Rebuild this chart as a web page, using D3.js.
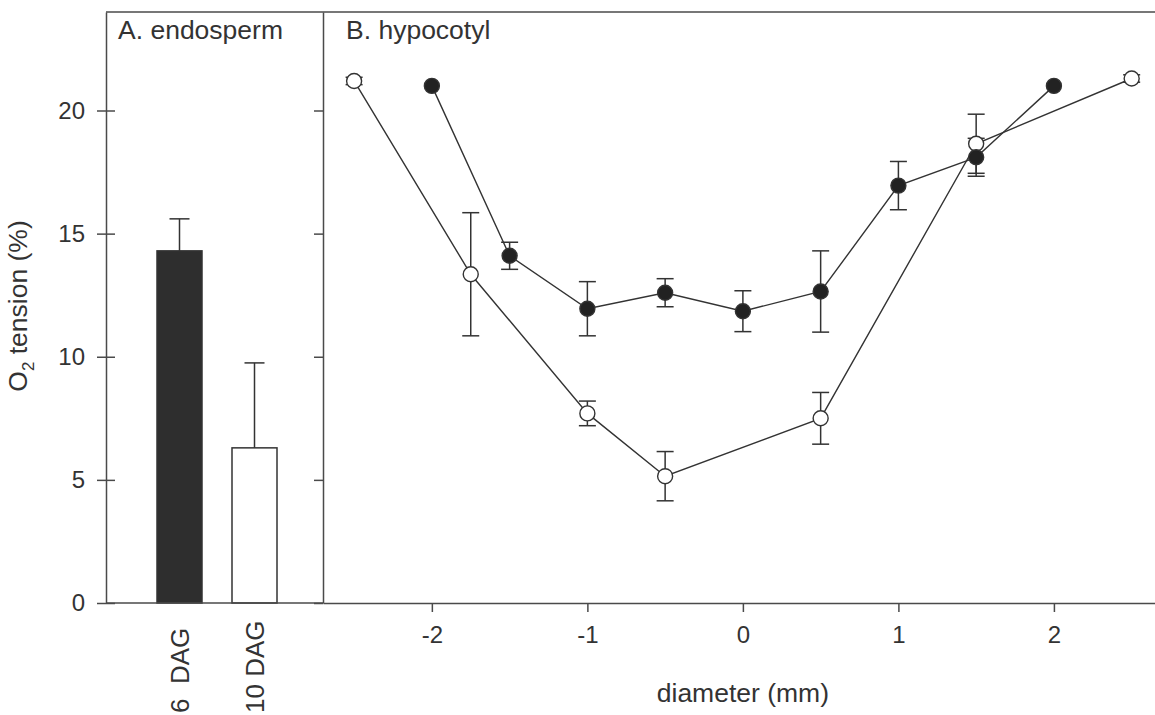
<!DOCTYPE html>
<html>
<head>
<meta charset="utf-8">
<script src="https://cdn.jsdelivr.net/npm/d3@7"></script>
<style>
  html, body { margin: 0; padding: 0; background: #fff; }
  svg { display: block; font-family: "Liberation Sans", Arial, sans-serif; }
</style>
</head>
<body>
<svg id="chart" width="1155" height="715"></svg>
<script>
// ---------- data ----------
const barCategories = ["6\u00a0\u00a0DAG", "10 DAG"];
const barValues = [14.3, 6.3];
const barErrors = [1.3, 3.45];

const yTicks = [0, 5, 10, 15, 20];
const xTicks = [-2, -1, 0, 1, 2];

// filled circles: 6 DAG
const diam6 = [-2, -1.5, -1, -0.5, 0, 0.5, 1, 1.5, 2];
const o2_6 = [21.0, 14.1, 11.95, 12.6, 11.85, 12.65, 16.95, 18.1, 21.0];
const err6 = [0, 0.55, 1.1, 0.57, 0.83, 1.65, 0.98, 0.77, 0];

// open circles: 10 DAG
const diam10 = [-2.5, -1.75, -1, -0.5, 0.5, 1.5, 2.5];
const o2_10 = [21.2, 13.35, 7.7, 5.15, 7.5, 18.65, 21.3];
const err10 = [0.15, 2.5, 0.5, 1.0, 1.05, 1.2, 0.15];

// ---------- layout ----------
const svg = d3.select("#chart");
const plotTop = 12, plotBottom = 603;
const aLeft = 106, aRight = 323, bRight = 1155;
const axisColor = "#4a4a4a", inkColor = "#333", textColor = "#333";

const y = d3.scaleLinear().domain([0, 24]).range([plotBottom, plotTop]);
const xBand = d3.scaleBand().domain(barCategories).range([142, 292])
  .paddingInner(0.4).paddingOuter(0.2);
const x = d3.scaleLinear().domain([-2.7, 2.65]).range([aRight, bRight]);

function styleAxis(g, fs) {
  g.selectAll("path.domain").attr("stroke", axisColor).attr("stroke-width", 1.5);
  g.selectAll(".tick line").attr("stroke", axisColor).attr("stroke-width", 1.5);
  g.selectAll(".tick text").attr("fill", textColor).style("font-size", fs + "px")
    .style("font-family", '"Liberation Sans", Arial, sans-serif');
}

// ---------- panel A ----------
svg.append("g").selectAll("rect").data(barValues).join("rect")
  .attr("x", (d, i) => xBand(barCategories[i]))
  .attr("width", xBand.bandwidth())
  .attr("y", d => y(d))
  .attr("height", d => y(0) - y(d))
  .attr("fill", (d, i) => i === 0 ? "#2e2e2e" : "#fff")
  .attr("stroke", inkColor).attr("stroke-width", 1.5);

const barErrG = svg.append("g").attr("stroke", inkColor).attr("stroke-width", 1.5);
barValues.forEach((v, i) => {
  const cx = xBand(barCategories[i]) + xBand.bandwidth() / 2;
  barErrG.append("line").attr("x1", cx).attr("x2", cx)
    .attr("y1", y(v)).attr("y2", y(v + barErrors[i]));
  barErrG.append("line").attr("x1", cx - 10).attr("x2", cx + 10)
    .attr("y1", y(v + barErrors[i])).attr("y2", y(v + barErrors[i]));
});

const yAxA = svg.append("g").attr("transform", `translate(${aLeft},0)`)
  .call(d3.axisLeft(y).tickValues(yTicks).tickSize(9).tickSizeOuter(0).tickPadding(12));
styleAxis(yAxA, 24);
const yAxAin = svg.append("g").attr("transform", `translate(${aLeft},0)`)
  .call(d3.axisRight(y).tickValues(yTicks).tickSize(9).tickSizeOuter(0).tickFormat(""));
styleAxis(yAxAin, 24);
yAxAin.select("path.domain").remove();

svg.append("line").attr("x1", aLeft).attr("x2", aRight).attr("y1", plotBottom).attr("y2", plotBottom)
  .attr("stroke", axisColor).attr("stroke-width", 1.5);

barCategories.forEach((c) => {
  const cx = xBand(c) + xBand.bandwidth() / 2 + 9;
  svg.append("text").attr("transform", `translate(${cx},713) rotate(-90)`)
    .attr("text-anchor", "start").attr("fill", textColor)
    .style("font-size", "26px").text(c);
});

// ---------- panel B ----------
const yAxB = svg.append("g").attr("transform", `translate(${aRight},0)`)
  .call(d3.axisLeft(y).tickValues(yTicks).tickSize(9).tickSizeOuter(0).tickFormat(""));
styleAxis(yAxB, 24);

const xAxB = svg.append("g").attr("transform", `translate(0,${plotBottom})`)
  .call(d3.axisBottom(x).tickValues(xTicks).tickSize(9).tickSizeOuter(0).tickPadding(14)
    .tickFormat(d => d < 0 ? "-" + Math.abs(d) : String(d)));
styleAxis(xAxB, 24);

svg.append("line").attr("x1", aLeft).attr("x2", bRight).attr("y1", plotTop).attr("y2", plotTop)
  .attr("stroke", axisColor).attr("stroke-width", 1.5);

const line = d3.line().x(d => x(d[0])).y(d => y(d[1]));
const series = [
  { xs: diam10, ys: o2_10, es: err10, fill: "#fff" },
  { xs: diam6, ys: o2_6, es: err6, fill: "#222" }
];

series.forEach(s => {
  const pts = s.xs.map((v, i) => [v, s.ys[i], s.es[i]]);
  const eg = svg.append("g").attr("stroke", inkColor).attr("stroke-width", 1.5);
  pts.filter(p => p[2] > 0).forEach(p => {
    const cx = x(p[0]);
    eg.append("line").attr("x1", cx).attr("x2", cx).attr("y1", y(p[1] - p[2])).attr("y2", y(p[1] + p[2]));
    [p[1] - p[2], p[1] + p[2]].forEach(v => {
      eg.append("line").attr("x1", cx - 8.5).attr("x2", cx + 8.5).attr("y1", y(v)).attr("y2", y(v));
    });
  });
  svg.append("path").datum(pts).attr("d", line)
    .attr("fill", "none").attr("stroke", inkColor).attr("stroke-width", 1.4);
});
series.forEach(s => {
  const pts = s.xs.map((v, i) => [v, s.ys[i]]);
  svg.append("g").selectAll("circle").data(pts).join("circle")
    .attr("cx", d => x(d[0])).attr("cy", d => y(d[1])).attr("r", 7.5)
    .attr("fill", s.fill).attr("stroke", inkColor).attr("stroke-width", 1.4);
});

// ---------- text ----------
svg.append("text").attr("x", 118).attr("y", 39).attr("fill", textColor)
  .style("font-size", "26.5px").text("A. endosperm");
svg.append("text").attr("x", 346).attr("y", 39).attr("fill", textColor)
  .style("font-size", "26.5px").text("B. hypocotyl");

svg.append("text").attr("x", x(0)).attr("y", 702).attr("text-anchor", "middle")
  .attr("fill", textColor).style("font-size", "26.5px").text("diameter (mm)");

const yl = svg.append("text").attr("transform", "translate(27,306) rotate(-90)")
  .attr("text-anchor", "middle").attr("fill", textColor).style("font-size", "26.5px");
yl.append("tspan").text("O");
yl.append("tspan").attr("dy", 7).style("font-size", "17px").text("2");
yl.append("tspan").attr("dy", -7).text(" tension (%)");
</script>
</body>
</html>
